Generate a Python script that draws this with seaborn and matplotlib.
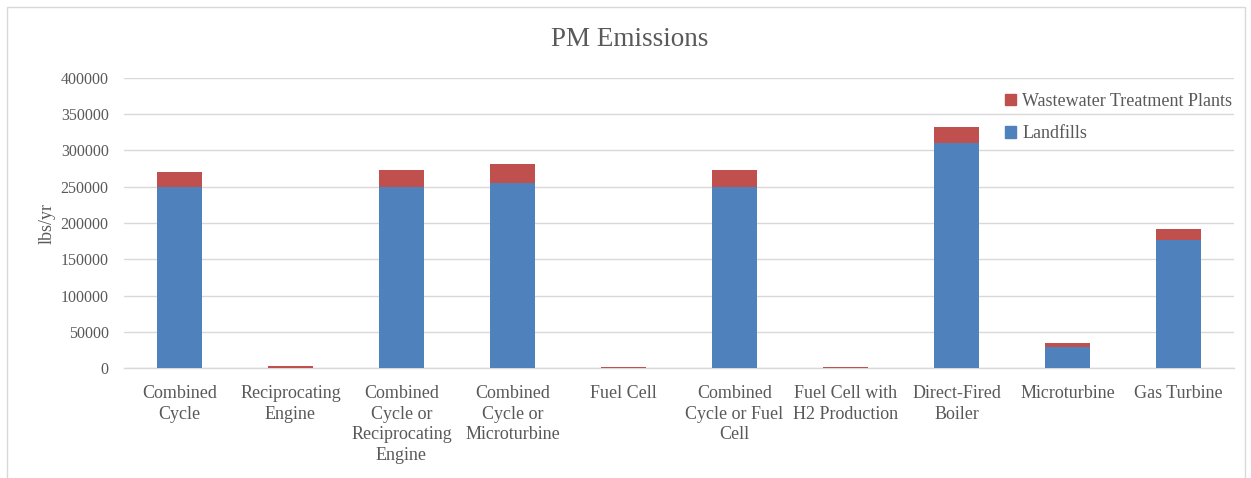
import matplotlib
matplotlib.use("Agg")
import matplotlib.pyplot as plt
import matplotlib.patches as mpatches
import seaborn as sns
import pandas as pd

categories = [
    "Combined\nCycle",
    "Reciprocating\nEngine",
    "Combined\nCycle or\nReciprocating\nEngine",
    "Combined\nCycle or\nMicroturbine",
    "Fuel Cell",
    "Combined\nCycle or Fuel\nCell",
    "Fuel Cell with\nH2 Production",
    "Direct-Fired\nBoiler",
    "Microturbine",
    "Gas Turbine",
]
landfills = [250000, 500, 250000, 255000, 300, 250000, 300, 310000, 29000, 177000]
wastewater = [20000, 2500, 23000, 26000, 1500, 23000, 1500, 22000, 5000, 15000]
yticks = [0, 50000, 100000, 150000, 200000, 250000, 300000, 350000, 400000]

blue = "#4F81BD"
red = "#C0504D"
text_gray = "#595959"
grid_gray = "#D9D9D9"

sns.set_theme(style="white")
plt.rcParams["font.family"] = ["Liberation Serif", "DejaVu Serif"]

df = pd.DataFrame({
    "category": categories,
    "landfills": landfills,
    "total": [a + b for a, b in zip(landfills, wastewater)],
})

fig = plt.figure(figsize=(12.51, 4.78), dpi=100)
ax = fig.add_axes([124 / 1251, 110 / 478, 1110 / 1251, 290 / 478])

# stacked bars: the full total in red, landfills drawn over it in blue
sns.barplot(data=df, x="category", y="total", color=red, width=0.4,
            saturation=1, linewidth=0, ax=ax, zorder=6)
sns.barplot(data=df, x="category", y="landfills", color=blue, width=0.4,
            saturation=1, linewidth=0, ax=ax, zorder=7)

ax.set_ylim(0, 400000)
ax.set_xlim(-0.5, len(categories) - 0.5)
ax.set_yticks(yticks)
ax.set_yticklabels([str(v) for v in yticks])
ax.yaxis.grid(True, color=grid_gray, linewidth=1, zorder=0)
ax.set_axisbelow(True)
for s in ["top", "right", "left"]:
    ax.spines[s].set_visible(False)
ax.spines["bottom"].set_color(grid_gray)
ax.spines["bottom"].set_linewidth(1)
ax.spines["bottom"].set_zorder(1)
ax.tick_params(axis="y", length=0, colors=text_gray, labelsize=11.5, pad=11)
ax.tick_params(axis="x", length=0, colors=text_gray, labelsize=13, pad=12)
for lbl in ax.get_xticklabels():
    lbl.set_linespacing(1.3)
ax.set_xlabel("")
ax.set_ylabel("lbs/yr", color=text_gray, fontsize=13, labelpad=4)

fig.text(630 / 1251, 1 - 40 / 478, "PM Emissions", ha="center", va="center",
         fontsize=19.5, color=text_gray)

handles = [mpatches.Patch(color=red, label="Wastewater Treatment Plants"),
           mpatches.Patch(color=blue, label="Landfills")]
leg = fig.legend(handles=handles, loc="upper left",
                 bbox_to_anchor=(1005 / 1251, 1 - 93 / 478),
                 frameon=False, fontsize=13, handlelength=0.6,
                 handleheight=0.6, handletextpad=0.35, labelspacing=0.85,
                 borderaxespad=0, borderpad=0)
for t in leg.get_texts():
    t.set_color(text_gray)

fig.patches.append(mpatches.Rectangle((7 / 1251, -0.01), 1238 / 1251, 1 - 7 / 478 + 0.01,
                                      transform=fig.transFigure, fill=False,
                                      edgecolor="#D9D9D9", linewidth=1))

fig.savefig("out.png", dpi=100, facecolor="white")
